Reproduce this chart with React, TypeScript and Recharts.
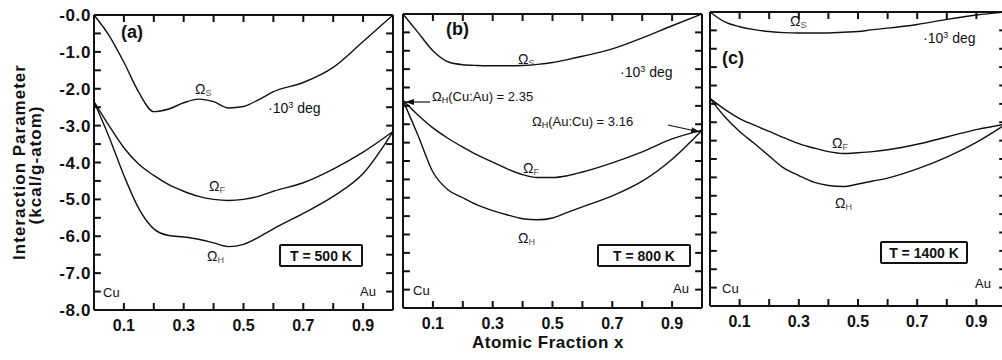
import { LineChart, Line, XAxis, YAxis, ReferenceLine } from "recharts"

// atomic fraction grid shared by all three panels
const X = [0, 0.05, 0.1, 0.15, 0.2, 0.25, 0.3, 0.35, 0.4, 0.45, 0.5, 0.55, 0.6, 0.7, 0.8, 0.9, 1]

// (a) T = 500 K
const sA = [0, -0.55, -1.28, -2.1, -2.62, -2.55, -2.38, -2.28, -2.35, -2.52, -2.48, -2.3, -2.08, -1.83, -1.42, -0.72, 0]
const fA = [-2.35, -3.0, -3.6, -4.05, -4.35, -4.6, -4.78, -4.92, -5.0, -5.03, -5.0, -4.92, -4.78, -4.55, -4.18, -3.72, -3.16]
const hA = [-2.35, -3.3, -4.35, -5.25, -5.8, -5.98, -6.02, -6.08, -6.18, -6.28, -6.22, -6.03, -5.8, -5.38, -4.92, -4.3, -3.16]

// (b) T = 800 K
const sB = [0, -0.5, -1.0, -1.3, -1.38, -1.4, -1.41, -1.41, -1.4, -1.37, -1.32, -1.24, -1.15, -0.95, -0.65, -0.32, 0]
const fB = [-2.35, -2.75, -3.1, -3.38, -3.62, -3.84, -4.03, -4.22, -4.37, -4.45, -4.45, -4.4, -4.3, -4.05, -3.75, -3.4, -3.16]
const hB = [-2.35, -3.3, -4.3, -4.78, -5.0, -5.2, -5.35, -5.47, -5.57, -5.6, -5.55, -5.4, -5.25, -4.95, -4.55, -3.95, -3.16]

// (c) T = 1400 K
const sC = [0, -0.27, -0.4, -0.48, -0.53, -0.56, -0.57, -0.57, -0.57, -0.55, -0.53, -0.48, -0.44, -0.34, -0.2, -0.08, 0]
const fC = [-2.35, -2.65, -2.9, -3.08, -3.25, -3.42, -3.58, -3.7, -3.8, -3.85, -3.83, -3.8, -3.75, -3.6, -3.4, -3.2, -3.05]
const hC = [-2.35, -2.85, -3.25, -3.58, -3.92, -4.25, -4.45, -4.63, -4.72, -4.75, -4.68, -4.6, -4.52, -4.27, -3.95, -3.55, -3.05]

const xTicks = [0.1, 0.2, 0.3, 0.4, 0.5, 0.6, 0.7, 0.8, 0.9]
const xLabels = [0.1, 0.3, 0.5, 0.7, 0.9]
const yTicks = [0, -0.5, -1, -1.5, -2, -2.5, -3, -3.5, -4, -4.5, -5, -5.5, -6, -6.5, -7, -7.5, -8]
const yLabels = [0, -1, -2, -3, -4, -5, -6, -7, -8]

const FONT = '"Liberation Sans", Arial, Helvetica, sans-serif'
const INK = "#111"
// inward tick length in data units (about 7px)
const TX = 0.023
const TY = 0.19

const rows = (s: number[], f: number[], h: number[]) =>
  X.map((x, i) => ({ x, s: s[i], f: f[i], h: h[i] }))

const has = (list: number[], v: number) => list.some((l) => Math.abs(l - v) < 1e-6)

const bottomTick = (p: any) => {
  const { x, y, payload } = p
  const v = payload.value
  if (!has(xLabels, v)) return <g />
  return (
    <text x={x} y={y + 21} textAnchor="middle" fontFamily={FONT} fontWeight="bold" fontSize={16} fill={INK}>
      {v.toFixed(1)}
    </text>
  )
}

const leftTick = (showLabels: boolean) => (p: any) => {
  const { x, y, payload } = p
  const v = payload.value
  if (!showLabels || !has(yLabels, v)) return <g />
  return (
    <text x={x - 3} y={y + 6} textAnchor="end" fontFamily={FONT} fontWeight="bold" fontSize={17} letterSpacing={0.6} fill={INK}>
      {v === 0 ? "-0.0" : v.toFixed(1)}
    </text>
  )
}

const axisStyle = { stroke: INK, strokeWidth: 2 }

interface PanelProps {
  left: number
  width: number
  margin: { top: number; right: number; bottom: number; left: number }
  data: { x: number; s: number; f: number; h: number }[]
  labels?: boolean
}

function Panel({ left, width, margin, data, labels = false }: PanelProps) {
  const line = { type: "monotone" as const, stroke: INK, strokeWidth: 1.4, dot: false, isAnimationActive: false }
  const common = { tickLine: false, tickSize: 0, tickMargin: 0, axisLine: axisStyle, interval: 0 as const }
  const tk = { stroke: INK, strokeWidth: 2 }
  return (
    <div style={{ position: "absolute", left, top: 0 }}>
      <LineChart width={width} height={360} data={data} margin={margin}>
        <XAxis dataKey="x" type="number" domain={[0, 1]} ticks={xTicks} tick={bottomTick} height={1} {...common} />
        <XAxis xAxisId="t" orientation="top" dataKey="x" type="number" domain={[0, 1]} ticks={xTicks}
          tick={false} height={1} {...common} />
        <YAxis type="number" domain={[-8, 0]} ticks={yTicks} tick={leftTick(labels)} width={1} {...common} />
        <YAxis yAxisId="r" orientation="right" type="number" domain={[-8, 0]} ticks={yTicks}
          tick={false} width={1} {...common} />
        {xTicks.map((t) => (
          <ReferenceLine key={"b" + t} segment={[{ x: t, y: -8 }, { x: t, y: -8 + TY }]} {...tk} />
        ))}
        {xTicks.map((t) => (
          <ReferenceLine key={"t" + t} segment={[{ x: t, y: 0 }, { x: t, y: -TY }]} {...tk} />
        ))}
        {yTicks.map((t) => (
          <ReferenceLine key={"l" + t} segment={[{ x: 0, y: t }, { x: TX, y: t }]} {...tk} />
        ))}
        {yTicks.map((t) => (
          <ReferenceLine key={"r" + t} segment={[{ x: 1, y: t }, { x: 1 - TX, y: t }]} {...tk} />
        ))}
        <Line dataKey="s" {...line} />
        <Line dataKey="f" {...line} />
        <Line dataKey="h" {...line} />
      </LineChart>
    </div>
  )
}

const Omega = ({ x, y, sub }: { x: number; y: number; sub: string }) => (
  <text x={x} y={y} fontFamily={FONT} fontSize={14} fill={INK}>
    Ω<tspan fontSize={9} dy={2} fill="#555">{sub}</tspan>
  </text>
)

const Deg = ({ x, y }: { x: number; y: number }) => (
  <text x={x} y={y} fontFamily={FONT} fontSize={14} fill={INK}>
    ·10<tspan fontSize={9} dy={-5}>3</tspan><tspan dy={5}> deg</tspan>
  </text>
)

const TBox = ({ x, y, w, label }: { x: number; y: number; w: number; label: string }) => (
  <g>
    <rect x={x} y={y} width={w} height={21} fill="#fff" stroke={INK} strokeWidth={2} rx={1} />
    <text x={x + w / 2} y={y + 15.5} textAnchor="middle" fontFamily={FONT} fontWeight="bold" fontSize={14} fill={INK}>
      {label}
    </text>
  </g>
)

const small = { fontFamily: FONT, fontSize: 13, fill: INK }
const big = { fontFamily: FONT, fontWeight: "bold" as const, fill: INK }

export default function App() {
  return (
    <div style={{ position: "relative", width: 1002, height: 360, overflow: "hidden", background: "#fff" }}>
      <style>{`body{margin:0}`}</style>
      <Panel left={0} width={400} margin={{ top: 14, right: 6, bottom: 49, left: 93 }} data={rows(sA, fA, hA)} labels />
      <Panel left={396} width={312} margin={{ top: 13, right: 5, bottom: 51, left: 6 }} data={rows(sB, fB, hB)} />
      <Panel left={704} width={304} margin={{ top: 11, right: 1, bottom: 53, left: 5 }} data={rows(sC, fC, hC)} />

      <svg width={1002} height={360} style={{ position: "absolute", left: 0, top: 0, pointerEvents: "none" }}>
        <defs>
          <marker id="ah" markerWidth={9} markerHeight={6} refX={9} refY={3} orient="auto" markerUnits="userSpaceOnUse">
            <path d="M0,0 L9,3 L0,6 z" fill={INK} />
          </marker>
        </defs>

        <text transform="translate(25,162) rotate(-90)" textAnchor="middle" fontSize={17} letterSpacing={1} {...big}>
          Interaction Parameter
        </text>
        <text transform="translate(41,165) rotate(-90)" textAnchor="middle" fontSize={17} letterSpacing={1} {...big}>
          (kcal/g-atom)
        </text>
        <text x={548} y={348} textAnchor="middle" fontSize={17} letterSpacing={0.5} {...big}>
          Atomic Fraction x
        </text>

        {/* (a) */}
        <text x={121} y={38} fontSize={18} {...big}>(a)</text>
        <Omega x={195} y={94} sub="S" />
        <Deg x={268} y={113} />
        <Omega x={209} y={191} sub="F" />
        <Omega x={207} y={261} sub="H" />
        <TBox x={280} y={245} w={82} label="T = 500 K" />
        <text x={103} y={297} {...small}>Cu</text>
        <text x={360} y={296} {...small}>Au</text>

        {/* (b) */}
        <text x={446} y={35} fontSize={18} {...big}>(b)</text>
        <Omega x={518} y={64} sub="S" />
        <Deg x={620} y={77} />
        <text x={432} y={101} {...small}>
          Ω<tspan fontSize={9} dy={2}>H</tspan><tspan dy={-2}>(Cu:Au) = 2.35</tspan>
        </text>
        <line x1={430} y1={102} x2={405} y2={102} stroke={INK} strokeWidth={1.2} markerEnd="url(#ah)" />
        <text x={532} y={126} {...small}>
          Ω<tspan fontSize={9} dy={2}>H</tspan><tspan dy={-2}>(Au:Cu) = 3.16</tspan>
        </text>
        <line x1={668} y1={125} x2={700} y2={132} stroke={INK} strokeWidth={1.2} markerEnd="url(#ah)" />
        <Omega x={523} y={173} sub="F" />
        <Omega x={518} y={243} sub="H" />
        <TBox x={598} y={245} w={92} label="T = 800 K" />
        <text x={413} y={295} {...small}>Cu</text>
        <text x={673} y={293} {...small}>Au</text>

        {/* (c) */}
        <text x={722} y={64} fontSize={18} {...big}>(c)</text>
        <Omega x={790} y={26} sub="S" />
        <Deg x={923} y={43} />
        <Omega x={832} y={148} sub="F" />
        <Omega x={835} y={208} sub="H" />
        <TBox x={881} y={242} w={86} label="T = 1400 K" />
        <text x={722} y={293} {...small}>Cu</text>
        <text x={975} y={288} {...small}>Au</text>
      </svg>
    </div>
  )
}
